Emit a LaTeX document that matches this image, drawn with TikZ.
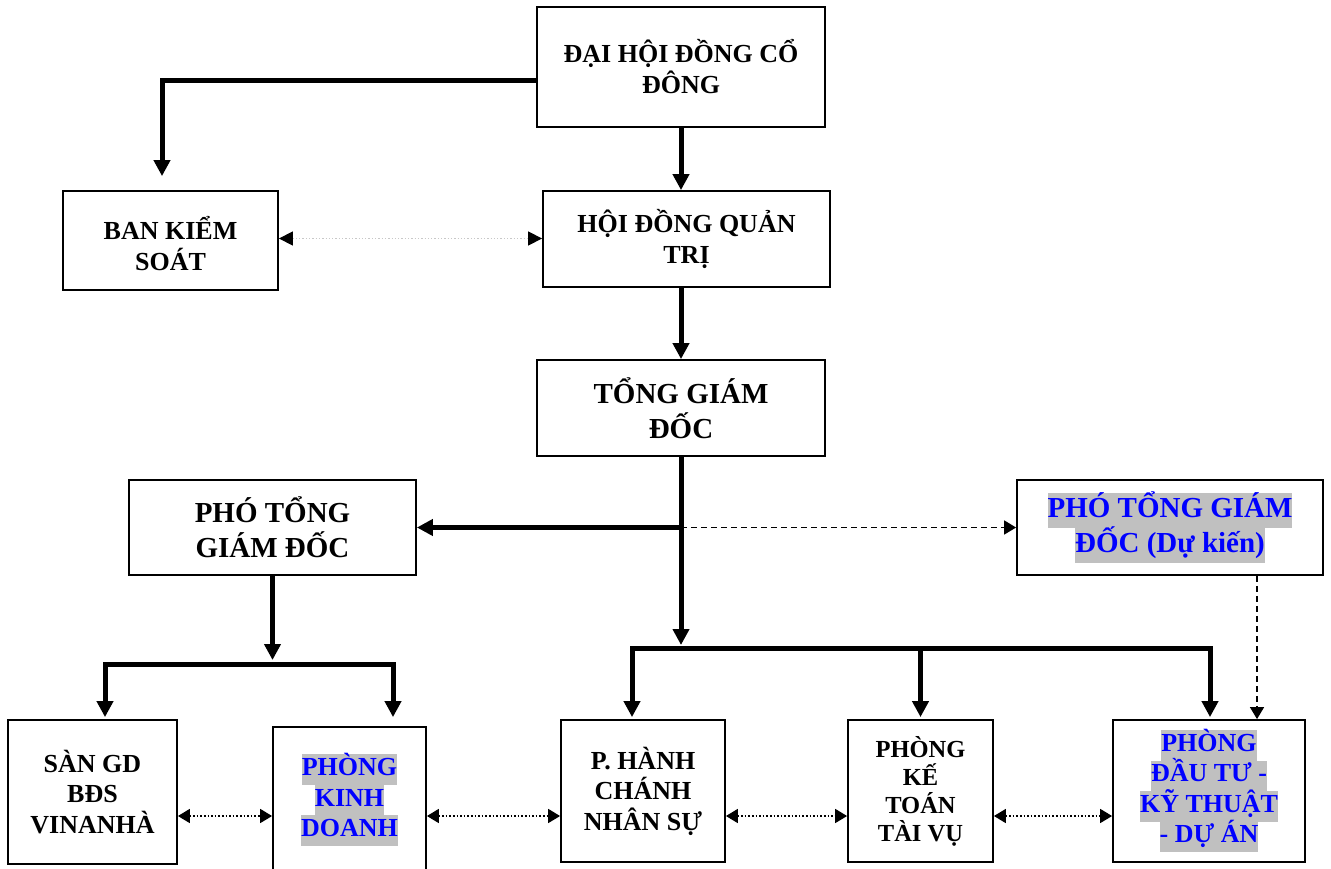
\documentclass[tikz,border=0pt]{standalone}
\usepackage{fontspec}
\setmainfont{Liberation Serif}
\usetikzlibrary{arrows.meta}
\definecolor{hlgray}{HTML}{C0C0C0}
\definecolor{hlblue}{HTML}{0000FF}
\definecolor{lightdot}{HTML}{C8C8C8}
\newcommand\hlt[1]{{\setlength\fboxsep{0pt}\colorbox{hlgray}{\strut\smash{#1}}}}
\begin{document}
\begin{tikzpicture}[x=1pt,y=-1pt,
 box/.style={draw, line width=1.8pt, inner sep=0pt, align=center},
 fA/.style={font=\fontsize{26}{31}\selectfont\bfseries},
 fB/.style={font=\fontsize{29}{35}\selectfont\bfseries},
 fC/.style={font=\fontsize{26}{30.5}\selectfont\bfseries},
 fD/.style={font=\fontsize{24.5}{28}\selectfont\bfseries},
 hl/.style={text=hlblue},
 main/.style={line width=5pt, -{Triangle[length=16pt,width=16pt]}},
 mainline/.style={line width=5pt, line cap=rect},
 dots/.style={line width=1.6pt, dotted, {Triangle[length=12pt,width=14pt]}-{Triangle[length=12pt,width=14pt]}},
 gdots/.style={line width=1.3pt, draw=lightdot, dotted, {Triangle[length=14pt,width=14pt,color=black,fill=black]}-{Triangle[length=14pt,width=14pt,color=black,fill=black]}},
 dashA/.style={line width=1.5pt, dash pattern=on 6pt off 4pt, -{Triangle[length=12pt,width=14pt]}},
]
\fill[white] (0,0) rectangle (1331,869);
\useasboundingbox (0,0) rectangle (1331,869);

% nodes
\node[box,fA,minimum width=288pt,minimum height=120pt] (dh) at (681,67) {ĐẠI HỘI ĐỒNG CỔ\\ĐÔNG};
\node[box,fA,minimum width=215pt,minimum height=99pt] (bks) at (170.5,240.5) {\rule{0pt}{30pt}BAN KIỂM\\SOÁT};
\node[box,fA,minimum width=287pt,minimum height=96pt] (hdqt) at (686.5,239) {HỘI ĐỒNG QUẢN\\TRỊ};
\node[box,fB,minimum width=288pt,minimum height=96pt] (tgd) at (681,408) {TỔNG GIÁM\\ĐỐC};
\node[box,fB,minimum width=287pt,minimum height=95pt] (ptgd) at (272.5,527.5) {PHÓ TỔNG\\GIÁM ĐỐC};
\node[box,fB,hl,minimum width=306pt,minimum height=95pt] (ptgd2) at (1170,527.5) {\hlt{PHÓ TỔNG GIÁM}\\\hlt{ĐỐC (Dự kiến)}};

\node[box,fC,minimum width=169pt,minimum height=144pt] (san) at (92.5,792) {SÀN GD\\BĐS\\VINANHÀ};
\node[box,fC,hl,minimum width=153pt,minimum height=146pt] (kd) at (349.5,800) {\hlt{PHÒNG}\\\hlt{KINH}\\\hlt{DOANH}};
\node[box,fC,minimum width=164pt,minimum height=142pt] (hc) at (643,791) {P. HÀNH\\CHÁNH\\NHÂN SỰ};
\node[box,fD,minimum width=145pt,minimum height=142pt] (kt) at (920.5,791) {PHÒNG\\KẾ\\TOÁN\\TÀI VỤ};
\node[box,fC,hl,minimum width=192pt,minimum height=142pt] (dt) at (1209,791) {\hlt{PHÒNG}\\\hlt{ĐẦU TƯ -}\\\hlt{KỸ THUẬT}\\\hlt{- DỰ ÁN}};

% top connectors
\draw[main] ([yshift=-14pt]dh.west) -| ([xshift=-8.5pt,yshift=14pt]bks.north);
\draw[main] (dh.south) -- (dh.south |- hdqt.north);
\draw[main] (tgd.north |- hdqt.south) -- (tgd.north);
\draw[gdots] ([yshift=2pt]bks.east) -- ([yshift=2pt]bks.east -| hdqt.west);

% trunk from TGD
\coordinate (jb) at (681,648);
\coordinate (jp) at (tgd.south |- ptgd.east);
\draw[main] (tgd.south) -- ([yshift=3pt]jb);
\draw[main] (jp) -- (ptgd.east);
\draw[dashA] (jp) -- (ptgd2.west);

\coordinate (bh) at ([xshift=-11pt]hc.north);
\coordinate (bd) at ([xshift=1pt]dt.north);
\draw[mainline] (bh |- jb) -- (bd |- jb);
\draw[main] (bh |- jb) -- ([yshift=2pt]bh);
\draw[main] (kt.north |- jb) -- ([yshift=2pt]kt.north);
\draw[main] (bd |- jb) -- ([yshift=2pt]bd);

% PTGD branch
\coordinate (jq) at (272.5,664);
\draw[main] (ptgd.south) -- ([yshift=4pt]jq);
\coordinate (bs) at ([xshift=12.5pt]san.north);
\coordinate (bk) at ([xshift=43.5pt]kd.north);
\draw[mainline] (bs |- jq) -- (bk |- jq);
\draw[main] (bs |- jq) -- ([yshift=2pt]bs);
\draw[main] (bk |- jq) -- ([yshift=9pt]bk);

% dashed from PTGD (du kien)
\coordinate (bx) at ([xshift=87pt]ptgd2.south);
\draw[dashA] (bx) -- (bx |- dt.north);

% bottom dotted links
\coordinate (r) at (0,816);
\draw[dots] (san.east |- r) -- (kd.west |- r);
\draw[dots] (kd.east |- r) -- (hc.west |- r);
\draw[dots] (hc.east |- r) -- (kt.west |- r);
\draw[dots] (kt.east |- r) -- (dt.west |- r);
\end{tikzpicture}
\end{document}
